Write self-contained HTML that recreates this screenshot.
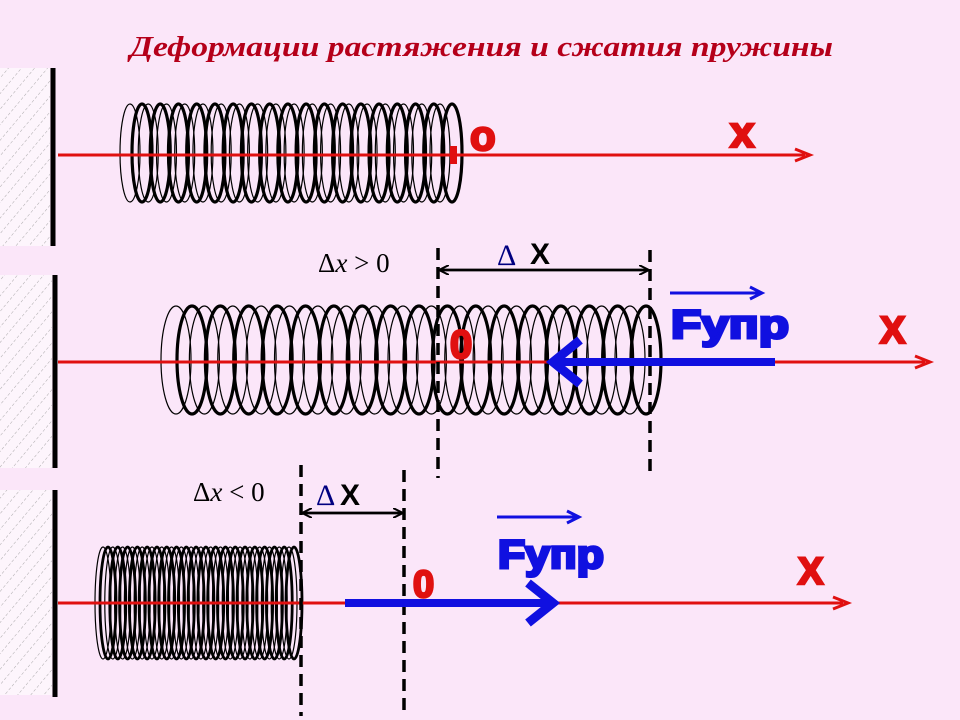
<!DOCTYPE html>
<html><head><meta charset="utf-8"><style>
html,body{margin:0;padding:0;background:#fbe6f9;}
svg{display:block}
</style></head><body>
<svg id="s" width="960" height="720" viewBox="0 0 960 720" xmlns="http://www.w3.org/2000/svg">
<defs>
<pattern id="h" width="10" height="10" patternUnits="userSpaceOnUse" patternTransform="rotate(40)">
<line x1="0" y1="0" x2="0" y2="10" stroke="#888" stroke-width="0.7" stroke-dasharray="3,2"/>
</pattern>
<marker id="ab" markerWidth="10" markerHeight="10" refX="9" refY="5" orient="auto" markerUnits="userSpaceOnUse"><path d="M0,0 L10,5 L0,10" fill="none" stroke="#000" stroke-width="2"/></marker>
</defs>
<rect width="960" height="720" fill="#fbe6f9"/>
<text x="130" y="56" textLength="703" lengthAdjust="spacingAndGlyphs" font-family="'Liberation Serif', serif" font-style="italic" font-weight="bold" font-size="29" fill="#b5001a">Деформации растяжения и сжатия пружины</text>
<rect x="0" y="68" width="50" height="178" fill="#fdf5fc"/><rect x="0" y="68" width="50" height="178" fill="url(#h)"/>
<rect x="0" y="275" width="52" height="193" fill="#fdf5fc"/><rect x="0" y="275" width="52" height="193" fill="url(#h)"/>
<rect x="0" y="490" width="52" height="205" fill="#fdf5fc"/><rect x="0" y="490" width="52" height="205" fill="url(#h)"/>
<line x1="53" y1="68" x2="53" y2="246" stroke="#000" stroke-width="5"/>
<line x1="55" y1="275" x2="55" y2="468" stroke="#000" stroke-width="5"/>
<line x1="55" y1="490" x2="55" y2="697" stroke="#000" stroke-width="5"/>
<g id="springs"></g>
<line x1="58" y1="155" x2="805" y2="155" stroke="#e01010" stroke-width="3"/>
<path d="M795,149 L810,155 L795,161" fill="none" stroke="#e01010" stroke-width="3"/>
<line x1="58" y1="362" x2="925" y2="362" stroke="#e01010" stroke-width="3"/>
<path d="M915,356 L930,362 L915,368" fill="none" stroke="#e01010" stroke-width="3"/>
<line x1="58" y1="603" x2="843" y2="603" stroke="#e01010" stroke-width="3"/>
<path d="M833,597 L848,603 L833,609" fill="none" stroke="#e01010" stroke-width="3"/>
<rect x="450" y="146" width="7" height="18" fill="#e01010"/>
<g font-family="'Liberation Sans', sans-serif" font-weight="bold" fill="#e01010" stroke="#e01010" stroke-width="2.5">
<text x="470" y="150" font-size="42">o</text>
<text x="730" y="147" font-size="44">x</text>
<text x="880" y="343" font-size="38">X</text>
<text x="450" y="358" font-size="40">0</text>
<text x="798" y="584" font-size="38">X</text>
<text x="413" y="597" font-size="38">0</text>
</g>
<g stroke="#000" stroke-width="3.5" stroke-dasharray="12,7">
<line x1="438" y1="248" x2="438" y2="478"/>
<line x1="650" y1="250" x2="650" y2="478"/>
<line x1="301" y1="465" x2="301" y2="716"/>
<line x1="404" y1="470" x2="404" y2="716"/>
</g>
<line x1="440" y1="270" x2="648" y2="270" stroke="#000" stroke-width="2.5" marker-end="url(#ab)"/>
<line x1="648" y1="270" x2="440" y2="270" stroke="#000" stroke-width="2.5" marker-end="url(#ab)"/>
<line x1="303" y1="513" x2="402" y2="513" stroke="#000" stroke-width="2.5" marker-end="url(#ab)"/>
<line x1="402" y1="513" x2="303" y2="513" stroke="#000" stroke-width="2.5" marker-end="url(#ab)"/>
<g font-family="'Liberation Serif', serif" font-size="27">
<text x="318" y="272">Δ<tspan font-style="italic">x</tspan> &gt; 0</text>
<text x="193" y="501">Δ<tspan font-style="italic">x</tspan> &lt; 0</text>
<text x="497" y="265" fill="#000080" font-size="30">Δ</text>
<text x="316" y="505" fill="#000080" font-size="30">Δ</text>
</g>
<g font-family="'Liberation Sans', sans-serif" font-size="30" font-weight="bold">
<text x="530" y="264">X</text>
<text x="340" y="505">X</text>
</g>
<line x1="775" y1="362" x2="560" y2="362" stroke="#1010e0" stroke-width="8"/>
<path d="M580,340 L553,362 L580,384" fill="none" stroke="#1010e0" stroke-width="9"/>
<line x1="345" y1="603" x2="548" y2="603" stroke="#1010e0" stroke-width="8"/>
<path d="M528,583 L553,603 L528,623" fill="none" stroke="#1010e0" stroke-width="9"/>
<line x1="670" y1="293" x2="760" y2="293" stroke="#1010e0" stroke-width="3"/>
<path d="M750,287 L762,293 L750,299" fill="none" stroke="#1010e0" stroke-width="3"/>
<line x1="497" y1="517" x2="577" y2="517" stroke="#1010e0" stroke-width="3"/>
<path d="M567,511 L579,517 L567,523" fill="none" stroke="#1010e0" stroke-width="3"/>
<g font-family="'Liberation Sans', sans-serif" font-weight="bold" fill="#1010e0" stroke="#1010e0" stroke-width="3" font-size="40">
<text x="671" y="338" textLength="118" lengthAdjust="spacingAndGlyphs">Fупр</text>
<text x="498" y="568" textLength="106" lengthAdjust="spacingAndGlyphs">Fупр</text>
</g>
</svg>
<script>
(function(){
var g=document.getElementById('springs'),h='';
function sp(x0,x1,n,cy,ry,rx,off,tw){
 var st=(x1-x0)/(n-1);
 for(var i=0;i<n;i++){var x=x0+i*st;
  h+='<ellipse cx="'+(x-off)+'" cy="'+cy+'" rx="'+rx+'" ry="'+ry+'" fill="none" stroke="#000" stroke-width="1.2"/>';
  h+='<ellipse cx="'+x+'" cy="'+cy+'" rx="'+rx+'" ry="'+ry+'" fill="none" stroke="#000" stroke-width="'+tw+'"/>';
 }
}
sp(142,452,18,153,49,10,12,3.2);
sp(192,646,17,360,54,15,16,3.2);
sp(108,294,20,603,56,8,5,2.8);
g.innerHTML=h;
})();
</script>
</body></html>
